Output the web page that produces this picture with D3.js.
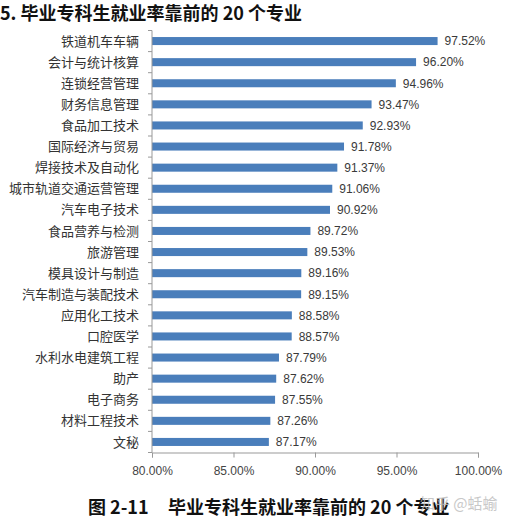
<!DOCTYPE html>
<html>
<head>
<meta charset="utf-8">
<script src="https://d3js.org/d3.v7.min.js"></script>
<style>
  body { margin: 0; background: #fff; }
  text { font-family: "Noto Sans CJK SC", "Noto Sans", sans-serif; }
  .cat { font-size: 13px; fill: #333; }
  .val { font-size: 12px; fill: #3a3a3a; font-family: "Liberation Sans", Arial, sans-serif; }
  .tick text { font-size: 12px; fill: #444; font-family: "Liberation Sans", Arial, sans-serif; }
  .title { font-size: 18px; font-weight: bold; fill: #111; }
</style>
</head>
<body>
<div id="chart"></div>
<script>
// majors, top to bottom
var majors = ["铁道机车车辆", "会计与统计核算", "连锁经营管理", "财务信息管理", "食品加工技术",
  "国际经济与贸易", "焊接技术及自动化", "城市轨道交通运营管理", "汽车电子技术", "食品营养与检测",
  "旅游管理", "模具设计与制造", "汽车制造与装配技术", "应用化工技术", "口腔医学",
  "水利水电建筑工程", "助产", "电子商务", "材料工程技术", "文秘"];

// employment rate (%)
var rates = [97.52, 96.20, 94.96, 93.47, 92.93,
  91.78, 91.37, 91.06, 90.92, 89.72,
  89.53, 89.16, 89.15, 88.58, 88.57,
  87.79, 87.62, 87.55, 87.26, 87.17];

var xTicks = [80, 85, 90, 95, 100];

var W = 527, H = 527;
var margin = { top: 30.5, left: 152, right: 49, bottom: 74.5 };

var svg = d3.select("#chart").append("svg")
  .attr("width", W).attr("height", H);

svg.append("text").attr("class", "title")
  .attr("x", 0).attr("y", 20)
  .text("5. 毕业专科生就业率靠前的 20 个专业");

var x = d3.scaleLinear().domain([80, 100]).range([margin.left, W - margin.right]);
var y = d3.scaleBand().domain(majors).range([margin.top, H - margin.bottom]).paddingInner(0.62).paddingOuter(0.31);

var g = svg.append("g");

// bars
g.selectAll(".bar").data(majors).enter().append("rect")
  .attr("class", "bar")
  .attr("x", x(80))
  .attr("y", function(d) { return y(d); })
  .attr("width", function(d, i) { return x(rates[i]) - x(80); })
  .attr("height", y.bandwidth())
  .style("fill", "#4a7ebb");

// value labels
g.selectAll(".val").data(majors).enter().append("text")
  .attr("class", "val")
  .attr("x", function(d, i) { return x(rates[i]) + 7; })
  .attr("y", function(d) { return y(d) + y.bandwidth() / 2; })
  .attr("dy", "0.36em")
  .text(function(d, i) { return rates[i].toFixed(2) + "%"; });

// category labels
g.selectAll(".cat").data(majors).enter().append("text")
  .attr("class", "cat")
  .attr("x", margin.left - 13)
  .attr("y", function(d) { return y(d) + y.bandwidth() / 2; })
  .attr("dy", "0.35em")
  .attr("text-anchor", "end")
  .text(function(d) { return d; });

// left axis line with ticks between categories
var y0 = margin.top, y1 = H - margin.bottom;
g.append("line")
  .attr("x1", x(80)).attr("x2", x(80))
  .attr("y1", y0).attr("y2", y1)
  .style("stroke", "#999").style("stroke-width", 1);
g.selectAll(".ltick").data(d3.range(majors.length + 1)).enter().append("line")
  .attr("x1", x(80) - 4).attr("x2", x(80))
  .attr("y1", function(i) { return y0 + i * (y1 - y0) / majors.length; })
  .attr("y2", function(i) { return y0 + i * (y1 - y0) / majors.length; })
  .style("stroke", "#999");

// bottom axis
var xAxis = d3.axisBottom(x).tickValues(xTicks)
  .tickFormat(function(d) { return d.toFixed(2) + "%"; })
  .tickSize(5).tickPadding(9);
var ax = svg.append("g")
  .attr("class", "x-axis")
  .attr("transform", "translate(0," + y1 + ")")
  .call(xAxis);
ax.selectAll("path, line").style("stroke", "#999");

// caption (two pieces, wide gap between them)
svg.append("text").attr("class", "title")
  .attr("x", 88).attr("y", 514)
  .text("图 2-11");
svg.append("text").attr("class", "title")
  .attr("x", 168).attr("y", 514)
  .text("毕业专科生就业率靠前的 20 个专业");

// watermark
svg.append("text")
  .attr("x", 420).attr("y", 509)
  .style("font-size", "15px").style("fill", "#bbb").style("opacity", 0.8)
  .text("知乎 @蛞蝓");
</script>
</body>
</html>
